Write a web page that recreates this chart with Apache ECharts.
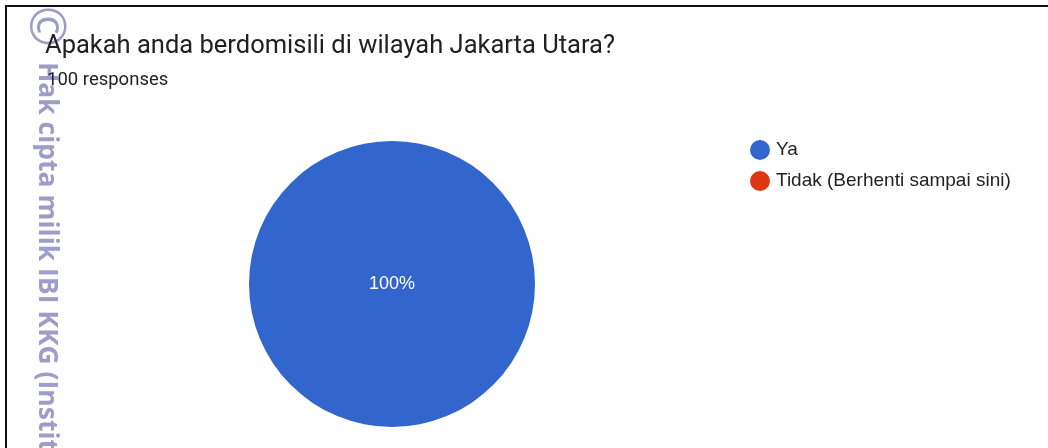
<!DOCTYPE html>
<html>
<head>
<meta charset="utf-8">
<script src="https://cdn.jsdelivr.net/npm/echarts@6/dist/echarts.min.js"></script>
<style>
html,body{margin:0;padding:0;background:#fff;}
#c{width:1048px;height:448px;}
</style>
</head>
<body>
<div id="c"></div>
<script>
const titleText = 'Apakah anda berdomisili di wilayah Jakarta Utara?';
const subtitleText = '100 responses';
const categories = ['Ya', 'Tidak (Berhenti sampai sini)'];
const values = [100, 0];
const colors = ['#3366cc', '#dc3912'];
const watermarkSymbol = '\u00A9';
const watermarkText = 'Hak cipta milik IBI KKG (Institut Bisnis dan Informatika Kwik Kian Gie)';

const chart = echarts.init(document.getElementById('c'));
chart.setOption({
  backgroundColor: '#fff',
  animation: false,
  title: [{
    text: titleText,
    left: 40,
    top: 29,
    textStyle: { fontFamily: 'Roboto', fontSize: 25.5, fontWeight: 'normal', color: '#202124' },
    z: 10
  }, {
    text: subtitleText,
    left: 42,
    top: 66,
    textStyle: { fontFamily: 'Roboto', fontSize: 18.5, fontWeight: 'normal', color: '#202124' },
    z: 10
  }],
  legend: {
    orient: 'vertical',
    left: 745,
    top: 135,
    icon: 'circle',
    itemWidth: 22,
    itemHeight: 20,
    itemGap: 11,
    textStyle: { fontFamily: 'Liberation Sans', fontSize: 19, color: '#222' },
    data: categories
  },
  color: colors,
  series: [{
    type: 'pie',
    center: [392, 284],
    radius: [0, 143],
    startAngle: 90,
    clockwise: true,
    avoidLabelOverlap: false,
    itemStyle: { borderWidth: 0 },
    label: {
      show: true,
      position: 'center',
      formatter: p => (p.value > 0 ? Math.round(p.percent) + '%' : ''),
      color: '#fff',
      fontFamily: 'Liberation Sans',
      fontSize: 18
    },
    labelLine: { show: false },
    emphasis: { disabled: true },
    data: categories.map((c, i) => ({ name: c, value: values[i] }))
  }],
  graphic: [
    {
      type: 'text',
      x: 44,
      y: 6,
      rotation: -Math.PI / 2,
      z: 1,
      style: {
        text: watermarkSymbol,
        font: '49px "Open Sans"',
        fill: '#9d9dc8',
        textAlign: 'left',
        textVerticalAlign: 'middle'
      }
    },
    {
      type: 'text',
      x: 47,
      y: 62,
      rotation: -Math.PI / 2,
      z: 1,
      style: {
        text: watermarkText,
        font: 'bold 26.5px "Open Sans"',
        fill: '#9d9dc8',
        textAlign: 'left',
        textVerticalAlign: 'middle'
      }
    },
    {
      type: 'polyline',
      z: 20,
      shape: { points: [[6, 448], [6, 6], [1048, 6]] },
      style: { stroke: '#111', lineWidth: 2, fill: null }
    }
  ]
});
</script>
</body>
</html>
